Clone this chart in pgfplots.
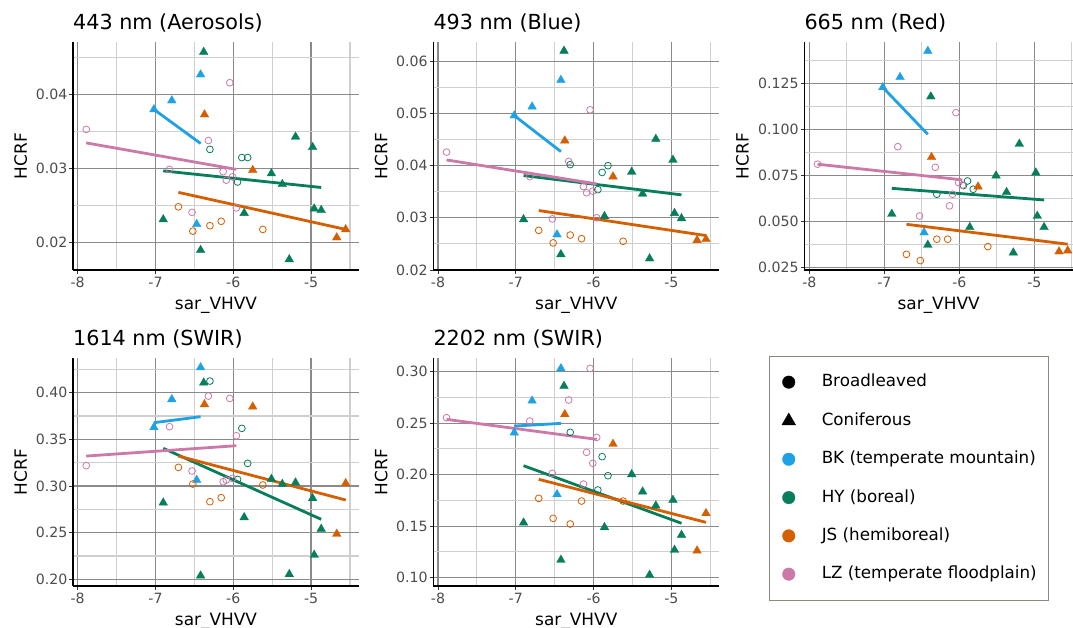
\documentclass[border=0pt]{standalone}
\usepackage{fontspec}
\setmainfont{DejaVu Sans}
\usepackage{pgfplots}
\pgfplotsset{compat=1.18}
\definecolor{cBK}{HTML}{1FA2E3}
\definecolor{cHY}{HTML}{067D5B}
\definecolor{cJS}{HTML}{D55E00}
\definecolor{cLZ}{HTML}{CC79A7}
\definecolor{legbd}{HTML}{8A8A7E}
\pgfplotsset{
  tri/.style={only marks, mark=triangle*, mark size=5bp, mark options={line width=0.3bp}},
  circ/.style={only marks, mark=o, mark size=3.4bp, mark options={line width=0.8bp}},
  fit/.style={no marks, line width=2.8bp},
  legsym/.style={legend image code/.code={\path[draw=none,fill=none] (-8bp,-6bp) rectangle (8bp,6bp); \draw[##1] plot coordinates {(0bp,0bp)};}},
  panel/.style={
    scale only axis, anchor=north west, clip=true,
    scaled ticks=false,
    xmin=-8.06, xmax=-4.384,
    xtick={-8,-7,-6,-5}, xticklabels={-8,-7,-6,-5},
    minor xtick={-7.5,-6.5,-5.5,-4.5},
    grid=both,
    major grid style={line width=1.2bp, color=black!46},
    minor grid style={line width=1.1bp, color=black!19},
    axis x line*=bottom, axis y line*=left,
    axis line style={line width=1.1bp, black, -},
    tick align=outside, major tick length=3.5bp, minor tick length=0bp,
    tick style={line width=0.9bp, black!80},
    ticklabel style={font=\fontsize{14.2}{16}\selectfont, text=black!70},
    xticklabel style={inner sep=0bp, yshift=-3bp},
    yticklabel style={inner sep=0bp, xshift=-2bp},
    xlabel={sar\_VHVV}, ylabel={HCRF},
    every axis x label/.style={at={(axis description cs:0.5,0)}, anchor=base, yshift=-39bp, inner sep=0bp, font=\fontsize{17}{20}\selectfont},
    every axis y label/.style={rotate=90, anchor=center, inner sep=0bp, font=\fontsize{17}{20}\selectfont},
    every axis title/.style={at={(axis description cs:0,1)}, anchor=base west, yshift=12.7bp, inner sep=0bp, font=\fontsize{20.8}{24}\selectfont},
  }
}
\begin{document}
\begin{tikzpicture}
\useasboundingbox (0,0) rectangle (1073bp,-628bp);

% ---------- 443 nm
\begin{axis}[panel, at={(73bp,-42bp)}, width=286bp, height=228bp,
  title={443 nm (Aerosols)},
  ymin=0.01632, ymax=0.0471,
  ytick={0.02,0.03,0.04}, yticklabels={0.02,0.03,0.04},
  minor ytick={0.025,0.035,0.045},
  ylabel style={at={(axis description cs:-0.1825,0.5)}}]
\addplot[tri, color=cBK] coordinates {(-7.02,0.0380) (-6.79,0.0392) (-6.42,0.0427) (-6.47,0.0225)};
\addplot[tri, color=cHY] coordinates {(-6.38,0.04575) (-6.90,0.02315) (-6.42,0.0190) (-5.86,0.0240) (-5.51,0.02935) (-5.37,0.0279) (-5.20,0.0343) (-4.98,0.0329) (-4.96,0.0246) (-4.87,0.0244) (-5.28,0.01775)};
\addplot[circ, color=cHY] coordinates {(-6.30,0.0326) (-5.89,0.0315) (-5.815,0.0315) (-5.945,0.0282)};
\addplot[tri, color=cJS] coordinates {(-6.37,0.0373) (-5.75,0.0298) (-4.67,0.0207) (-4.555,0.0218)};
\addplot[circ, color=cJS] coordinates {(-6.705,0.02485) (-6.52,0.02157) (-6.30,0.0223) (-6.155,0.0229) (-5.62,0.0218)};
\addplot[circ, color=cLZ] coordinates {(-7.89,0.0353) (-6.82,0.0299) (-6.53,0.0241) (-6.32,0.0338) (-6.045,0.0416) (-6.13,0.0296) (-6.09,0.02845) (-6.01,0.0289) (-5.96,0.0247)};
\addplot[fit, color=cBK] coordinates {(-7.02,0.0380) (-6.42,0.0334)};
\addplot[fit, color=cHY] coordinates {(-6.90,0.0297) (-4.87,0.02746)};
\addplot[fit, color=cJS] coordinates {(-6.705,0.0268) (-4.555,0.0218)};
\addplot[fit, color=cLZ] coordinates {(-7.89,0.03348) (-5.96,0.0299)};
\end{axis}

% ---------- 493 nm
\begin{axis}[panel, at={(433.3bp,-42bp)}, width=286bp, height=228bp,
  title={493 nm (Blue)},
  ymin=0.0200, ymax=0.0637,
  ytick={0.02,0.03,0.04,0.05,0.06}, yticklabels={0.02,0.03,0.04,0.05,0.06},
  minor ytick={0.025,0.035,0.045,0.055},
  ylabel style={at={(axis description cs:-0.1825,0.5)}}]
\addplot[tri, color=cBK] coordinates {(-7.02,0.0496) (-6.79,0.0513) (-6.42,0.0564) (-6.47,0.0268)};
\addplot[tri, color=cHY] coordinates {(-6.38,0.0620) (-6.90,0.0297) (-6.42,0.0230) (-5.86,0.0303) (-5.51,0.0388) (-5.37,0.0346) (-5.20,0.0451) (-4.98,0.0411) (-4.96,0.0309) (-4.87,0.0299) (-5.28,0.0222)};
\addplot[circ, color=cHY] coordinates {(-6.30,0.0402) (-5.89,0.0387) (-5.815,0.0400) (-5.945,0.0354)};
\addplot[tri, color=cJS] coordinates {(-6.37,0.0448) (-5.75,0.0379) (-4.67,0.0257) (-4.555,0.0259)};
\addplot[circ, color=cJS] coordinates {(-6.705,0.0276) (-6.52,0.0252) (-6.30,0.0267) (-6.155,0.0260) (-5.62,0.0255)};
\addplot[circ, color=cLZ] coordinates {(-7.89,0.0426) (-6.82,0.0379) (-6.53,0.0298) (-6.32,0.0408) (-6.045,0.0507) (-6.13,0.0360) (-6.09,0.0348) (-6.01,0.0351) (-5.96,0.0300)};
\addplot[fit, color=cBK] coordinates {(-7.02,0.0496) (-6.42,0.0427)};
\addplot[fit, color=cHY] coordinates {(-6.90,0.0381) (-4.87,0.0344)};
\addplot[fit, color=cJS] coordinates {(-6.705,0.0314) (-4.555,0.0266)};
\addplot[fit, color=cLZ] coordinates {(-7.89,0.0411) (-5.96,0.0365)};
\end{axis}

% ---------- 665 nm
\begin{axis}[panel, at={(804.3bp,-42bp)}, width=268.7bp, height=228bp,
  xmin=-8.0667, xmax=-4.484,
  title={665 nm (Red)},
  ymin=0.0237, ymax=0.1474,
  ytick={0.025,0.05,0.075,0.1,0.125}, yticklabels={0.025,0.050,0.075,0.100,0.125},
  minor ytick={0.0375,0.0625,0.0875,0.1125,0.1375},
  ylabel style={at={(axis description cs:-0.23,0.5)}}]
\addplot[tri, color=cBK] coordinates {(-7.02,0.1228) (-6.79,0.1283) (-6.42,0.1425) (-6.47,0.0440)};
\addplot[tri, color=cHY] coordinates {(-6.38,0.1178) (-6.90,0.0541) (-6.42,0.0373) (-5.86,0.0469) (-5.51,0.0749) (-5.37,0.0659) (-5.20,0.0921) (-4.98,0.0765) (-4.96,0.0530) (-4.87,0.0469) (-5.28,0.0331)};
\addplot[circ, color=cHY] coordinates {(-6.30,0.0648) (-5.89,0.0720) (-5.815,0.0675) (-5.945,0.0695)};
\addplot[tri, color=cJS] coordinates {(-6.37,0.0849) (-5.75,0.0689) (-4.67,0.0337) (-4.555,0.0342)};
\addplot[circ, color=cJS] coordinates {(-6.705,0.0322) (-6.52,0.0288) (-6.30,0.0404) (-6.155,0.0404) (-5.62,0.0364)};
\addplot[circ, color=cLZ] coordinates {(-7.89,0.0811) (-6.82,0.0906) (-6.53,0.0530) (-6.32,0.0794) (-6.045,0.1091) (-6.13,0.0585) (-6.09,0.0648) (-6.01,0.0711) (-5.96,0.0698)};
\addplot[fit, color=cBK] coordinates {(-7.02,0.1228) (-6.42,0.0973)};
\addplot[fit, color=cHY] coordinates {(-6.90,0.0680) (-4.87,0.0617)};
\addplot[fit, color=cJS] coordinates {(-6.705,0.0485) (-4.555,0.0377)};
\addplot[fit, color=cLZ] coordinates {(-7.89,0.0811) (-5.96,0.0726)};
\end{axis}

% ---------- 1614 nm
\begin{axis}[panel, at={(73bp,-358.3bp)}, width=286bp, height=227.7bp,
  title={1614 nm (SWIR)},
  ymin=0.1928, ymax=0.4369,
  ytick={0.2,0.25,0.3,0.35,0.4}, yticklabels={0.20,0.25,0.30,0.35,0.40},
  minor ytick={0.225,0.275,0.325,0.375,0.425},
  ylabel style={at={(axis description cs:-0.1825,0.5)}}]
\addplot[tri, color=cBK] coordinates {(-7.02,0.3629) (-6.79,0.3929) (-6.42,0.4271) (-6.47,0.3064)};
\addplot[tri, color=cHY] coordinates {(-6.38,0.4107) (-6.90,0.2821) (-6.42,0.2039) (-5.86,0.2664) (-5.51,0.3075) (-5.37,0.3021) (-5.20,0.3036) (-4.98,0.2868) (-4.96,0.2261) (-4.87,0.2539) (-5.28,0.2054)};
\addplot[circ, color=cHY] coordinates {(-6.30,0.4125) (-5.89,0.3618) (-5.815,0.3243) (-5.945,0.3071)};
\addplot[tri, color=cJS] coordinates {(-6.37,0.3875) (-5.75,0.3850) (-4.67,0.2486) (-4.555,0.3029)};
\addplot[circ, color=cJS] coordinates {(-6.705,0.3200) (-6.52,0.3021) (-6.30,0.2832) (-6.155,0.2875) (-5.62,0.3011)};
\addplot[circ, color=cLZ] coordinates {(-7.89,0.3218) (-6.82,0.3636) (-6.53,0.3161) (-6.32,0.3964) (-6.045,0.3939) (-6.13,0.3046) (-6.09,0.3064) (-6.01,0.3082) (-5.96,0.3539)};
\addplot[fit, color=cBK] coordinates {(-7.02,0.3679) (-6.42,0.3743)};
\addplot[fit, color=cHY] coordinates {(-6.90,0.3404) (-4.87,0.2643)};
\addplot[fit, color=cJS] coordinates {(-6.705,0.3321) (-4.555,0.2850)};
\addplot[fit, color=cLZ] coordinates {(-7.89,0.3321) (-5.96,0.3432)};
\end{axis}

% ---------- 2202 nm
\begin{axis}[panel, at={(433.3bp,-358.3bp)}, width=286bp, height=227.7bp,
  title={2202 nm (SWIR)},
  ymin=0.0919, ymax=0.313,
  ytick={0.1,0.15,0.2,0.25,0.3}, yticklabels={0.10,0.15,0.20,0.25,0.30},
  minor ytick={0.125,0.175,0.225,0.275},
  ylabel style={at={(axis description cs:-0.1825,0.5)}}]
\addplot[tri, color=cBK] coordinates {(-7.02,0.2408) (-6.79,0.2718) (-6.42,0.3032) (-6.47,0.1809)};
\addplot[tri, color=cHY] coordinates {(-6.38,0.2861) (-6.90,0.1534) (-6.42,0.1172) (-5.86,0.1489) (-5.51,0.2003) (-5.37,0.1835) (-5.20,0.1699) (-4.98,0.1754) (-4.96,0.1269) (-4.87,0.1414) (-5.28,0.1026)};
\addplot[circ, color=cHY] coordinates {(-6.30,0.2411) (-5.89,0.2175) (-5.815,0.1990) (-5.945,0.1851)};
\addplot[tri, color=cJS] coordinates {(-6.37,0.2586) (-5.75,0.2298) (-4.67,0.1262) (-4.555,0.1625)};
\addplot[circ, color=cJS] coordinates {(-6.705,0.1770) (-6.52,0.1576) (-6.30,0.1521) (-6.155,0.1744) (-5.62,0.1744)};
\addplot[circ, color=cLZ] coordinates {(-7.89,0.2553) (-6.82,0.2521) (-6.53,0.2013) (-6.32,0.2725) (-6.045,0.3032) (-6.13,0.1909) (-6.09,0.2217) (-6.01,0.2110) (-5.96,0.2362)};
\addplot[fit, color=cBK] coordinates {(-7.02,0.2472) (-6.42,0.2498)};
\addplot[fit, color=cHY] coordinates {(-6.90,0.2087) (-4.87,0.1528)};
\addplot[fit, color=cJS] coordinates {(-6.705,0.1955) (-4.555,0.1537)};
\addplot[fit, color=cLZ] coordinates {(-7.89,0.2537) (-5.96,0.2343)};
\end{axis}

% ---------- legend
\begin{axis}[hide axis, scale only axis, anchor=north west, at={(769bp,-355.7bp)},
  width=276.7bp, height=245.3bp, xmin=0, xmax=1, ymin=0, ymax=1,
  legend cell align=left,
  legend style={at={(0,1)}, anchor=north west, draw=legbd, line width=0.9bp, fill=white,
    inner xsep=11.3bp, inner ysep=18.5bp, row sep=23.3bp, column sep=25bp,
    font=\fontsize{16.8}{18}\selectfont,
    nodes={inner sep=0bp, text height=12bp, text depth=3bp}}]
\addlegendimage{legsym, mark=*, black, mark size=6.3bp, mark options={line width=0.3bp}}
\addlegendentry{Broadleaved}
\addlegendimage{legsym, mark=triangle*, black, mark size=8bp, mark options={line width=0.3bp}}
\addlegendentry{Coniferous}
\addlegendimage{legsym, mark=*, cBK, mark size=6.3bp, mark options={line width=0.3bp}}
\addlegendentry{BK (temperate mountain)}
\addlegendimage{legsym, mark=*, cHY, mark size=6.3bp, mark options={line width=0.3bp}}
\addlegendentry{HY (boreal)}
\addlegendimage{legsym, mark=*, cJS, mark size=6.3bp, mark options={line width=0.3bp}}
\addlegendentry{JS (hemiboreal)}
\addlegendimage{legsym, mark=*, cLZ, mark size=6.3bp, mark options={line width=0.3bp}}
\addlegendentry{LZ (temperate floodplain)}
\end{axis}
\end{tikzpicture}
\end{document}
